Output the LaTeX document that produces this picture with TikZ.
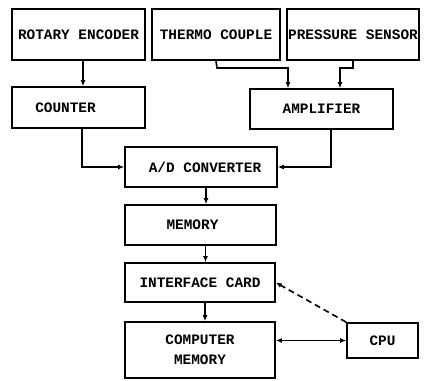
\documentclass[tikz,border=0pt]{standalone}
\usepackage{fontspec}
\setmainfont{Liberation Mono}
\usetikzlibrary{arrows.meta}
\begin{document}
\begin{tikzpicture}[x=1pt,y=-1pt,
  box/.style={draw,line width=1.6pt,inner sep=0pt,font=\fontsize{14.4}{20}\selectfont\bfseries,align=center},
  arr/.style={line width=1.6pt,-{Latex[length=6pt,width=5pt]}},
  darr/.style={line width=1.6pt,{Latex[length=6pt,width=5pt]}-{Latex[length=6pt,width=5pt]}}]
\useasboundingbox (0,0) rectangle (428,380);
\node[box,minimum width=133pt,minimum height=51pt] (enc) at (78.5,34.5) {ROTARY ENCODER};
\node[box,minimum width=128pt,minimum height=51pt] (thermo) at (216,34.5) {THERMO COUPLE};
\node[box,minimum width=132pt,minimum height=51pt] (press) at (353,34.5) {PRESSURE SENSOR};
\node[box,minimum width=133pt,minimum height=41pt] (counter) at (78.5,107.5) {COUNTER\hspace*{26pt}};
\node[box,minimum width=143pt,minimum height=40pt] (amp) at (321.5,109) {AMPLIFIER};
\node[box,minimum width=152pt,minimum height=40pt] (adc) at (201,167) {\hspace*{8pt}A/D CONVERTER};
\node[box,minimum width=151pt,minimum height=40pt] (mem) at (200.5,225) {MEMORY\hspace*{16pt}};
\node[box,minimum width=150pt,minimum height=39pt] (iface) at (200,282.5) {INTERFACE CARD};
\node[box,minimum width=150pt,minimum height=56pt] (cmem) at (200,350) {COMPUTER\\MEMORY};
\node[box,minimum width=71pt,minimum height=35pt] (cpu) at (382.5,340.5) {CPU};
\coordinate (t1) at (217,68);
\coordinate (p1) at (353,68);
\draw[arr] ([xshift=4.5pt]enc.south) -- ([xshift=4.5pt]counter.north);
\draw[arr] (thermo.south) -- (t1) -| ([xshift=-33.5pt]amp.north);
\draw[arr] (press.south) -- (p1) -| ([xshift=18.5pt]amp.north);
\draw[arr] ([xshift=3.5pt]counter.south) |- (adc.west);
\draw[arr] ([xshift=9.5pt]amp.south) |- (adc.east);
\draw[arr] ([xshift=5pt]adc.south) -- ([xshift=5pt]adc.south |- mem.north);
\draw[arr] ([xshift=5pt]mem.south) -- ([xshift=5pt]mem.south |- iface.north);
\draw[arr] ([xshift=5pt]iface.south) -- ([xshift=5pt]iface.south |- cmem.north);
\draw[darr] (cpu.west -| cmem.east) -- (cpu.west);
\draw[arr,dashed,dash pattern=on 6pt off 4pt] (cpu.north west) -- (iface.east);
\end{tikzpicture}
\end{document}
